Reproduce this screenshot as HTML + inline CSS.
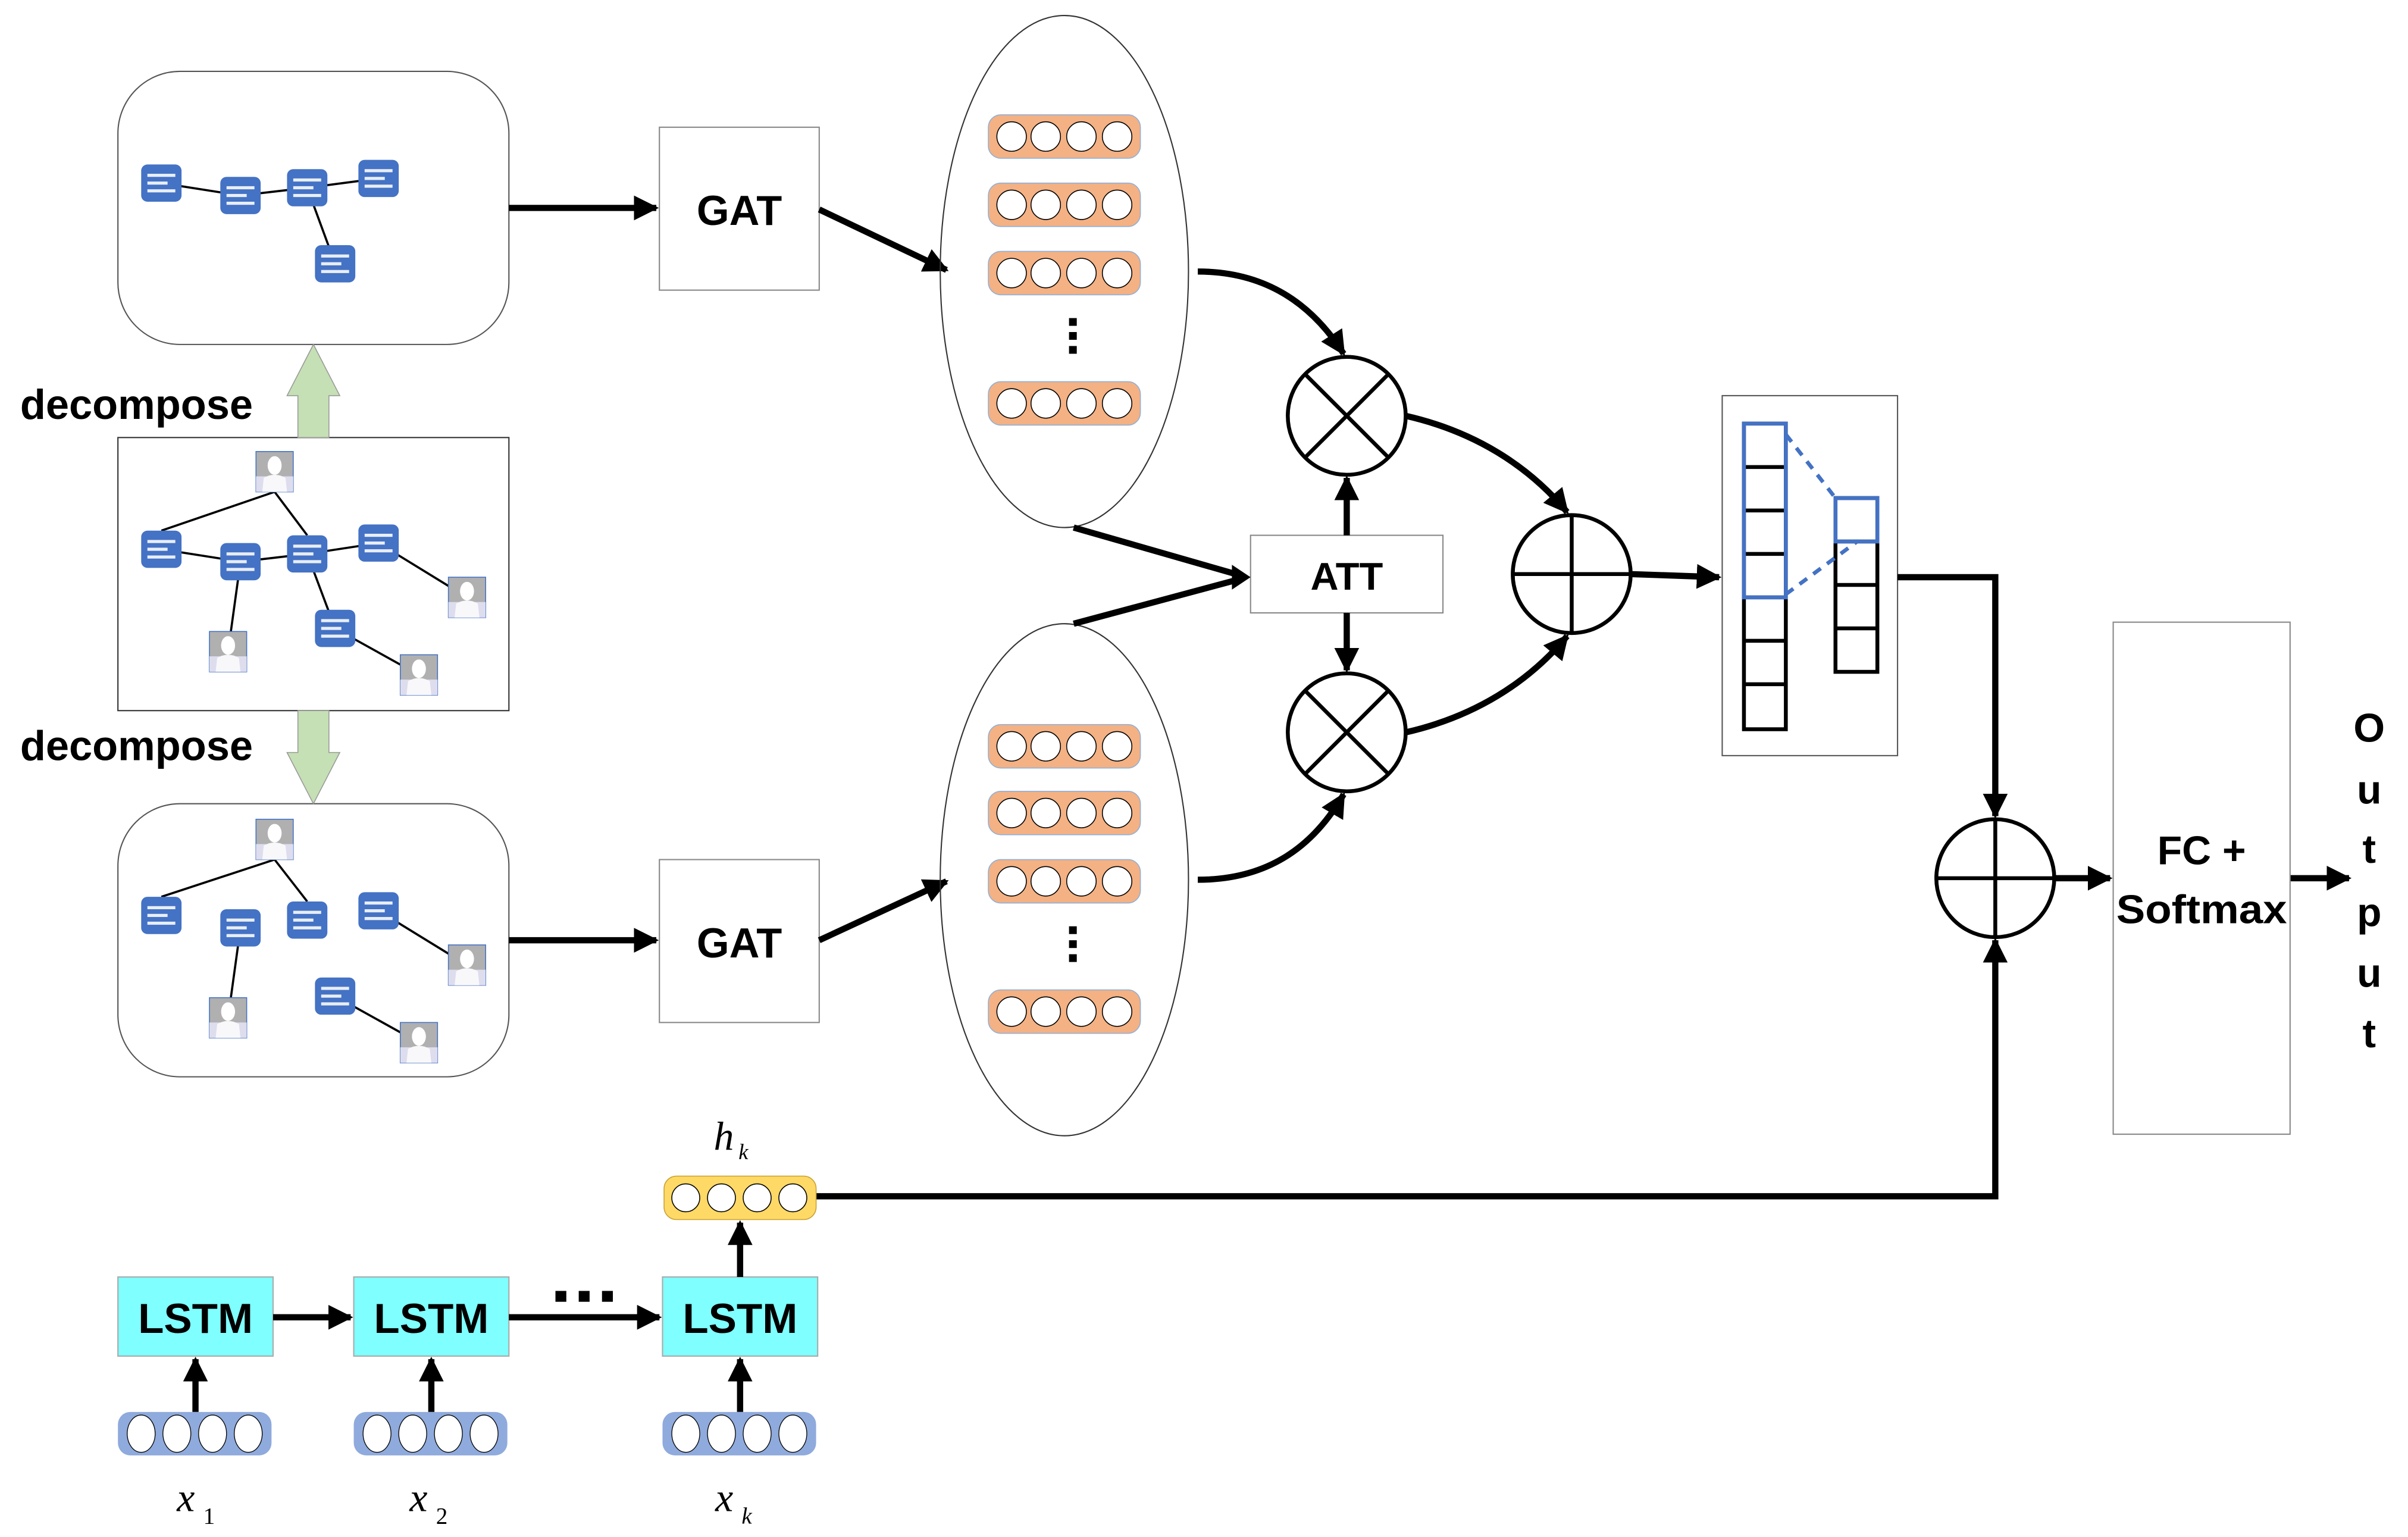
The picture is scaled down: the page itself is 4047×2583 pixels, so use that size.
<!DOCTYPE html>
<html><head><meta charset="utf-8"><style>
html,body{margin:0;padding:0;background:#fff;}
svg{display:block;}
.b{font-family:"Liberation Sans",sans-serif;font-weight:bold;}
.i{font-family:"Liberation Serif",serif;font-style:italic;}
</style></head><body>
<svg width="4047" height="2583" viewBox="0 0 1552 990.6" preserveAspectRatio="none" xmlns="http://www.w3.org/2000/svg">
<defs>
<marker id="ah" viewBox="0 0 10 10" refX="9" refY="5" markerWidth="4" markerHeight="4" orient="auto" markerUnits="strokeWidth">
<path d="M0,0 L10,5 L0,10 Z" fill="#000"/></marker>
<g id="doc"><rect x="-13" y="-12" width="26" height="24" rx="4" fill="#4472c4"/>
<rect x="-9" y="-6" width="18" height="2" fill="#e8eef8"/><rect x="-9" y="-1" width="13" height="2" fill="#e8eef8"/><rect x="-9" y="4" width="18" height="2" fill="#e8eef8"/></g>
<g id="per"><rect x="-12" y="-13" width="24" height="26" fill="#b0b0b0" stroke="#4472c4" stroke-width="0.6"/>
<rect x="-12" y="3" width="24" height="10" fill="#dde"/>
<ellipse cx="0" cy="-4" rx="4.5" ry="6" fill="#fff"/><path d="M-8,13 L-7,4 Q0,0 7,4 L8,13 Z" fill="#f8f8fb"/></g>
<g id="ov"><rect x="0" y="-14" width="98" height="28" rx="8" fill="#f4b183" stroke="#8fb0d8" stroke-width="0.6"/>
<circle cx="15" cy="0" r="9.5" fill="#fff" stroke="#000" stroke-width="0.6"/><circle cx="37" cy="0" r="9.5" fill="#fff" stroke="#000" stroke-width="0.6"/><circle cx="60" cy="0" r="9.5" fill="#fff" stroke="#000" stroke-width="0.6"/><circle cx="83" cy="0" r="9.5" fill="#fff" stroke="#000" stroke-width="0.6"/></g>
<g id="bv"><rect x="0" y="-14" width="99" height="28" rx="8" fill="#8faadc"/>
<ellipse cx="15" cy="0" rx="9" ry="12" fill="#fff" stroke="#000" stroke-width="0.5"/><ellipse cx="38" cy="0" rx="9" ry="12" fill="#fff" stroke="#000" stroke-width="0.5"/><ellipse cx="61" cy="0" rx="9" ry="12" fill="#fff" stroke="#000" stroke-width="0.5"/><ellipse cx="84" cy="0" rx="9" ry="12" fill="#fff" stroke="#000" stroke-width="0.5"/></g>
</defs>

<rect x="76" y="46" width="252" height="176" rx="40" fill="#fff" stroke="#555" stroke-width="0.8"/>
<rect x="76" y="282" width="252" height="176" fill="#fff" stroke="#333" stroke-width="0.8"/>
<rect x="76" y="518" width="252" height="176" rx="40" fill="#fff" stroke="#555" stroke-width="0.8"/>

<path d="M192,282 L192,255 L185,255 L202,222 L219,255 L212,255 L212,282 Z" fill="#c5e0b4" stroke="#999" stroke-width="0.6"/>
<path d="M192,458 L192,485 L185,485 L202,518 L219,485 L212,485 L212,458 Z" fill="#c5e0b4" stroke="#999" stroke-width="0.6"/>
<text x="13" y="270" class="b" font-size="27">decompose</text>
<text x="13" y="490" class="b" font-size="27">decompose</text>

<g stroke="#000" stroke-width="1.4">
<line x1="104" y1="118" x2="155" y2="126"/><line x1="155" y1="126" x2="198" y2="121"/><line x1="198" y1="121" x2="244" y2="115"/><line x1="198" y1="121" x2="216" y2="170"/>
</g>
<use href="#doc" x="104" y="118"/><use href="#doc" x="155" y="126"/><use href="#doc" x="198" y="121"/><use href="#doc" x="244" y="115"/><use href="#doc" x="216" y="170"/>

<g stroke="#000" stroke-width="1.4">
<line x1="104" y1="342" x2="177" y2="317"/><line x1="177" y1="317" x2="198" y2="345"/><line x1="104" y1="354" x2="155" y2="362"/><line x1="155" y1="362" x2="198" y2="357"/><line x1="198" y1="357" x2="244" y2="350"/><line x1="244" y1="350" x2="301" y2="385"/><line x1="155" y1="362" x2="147" y2="420"/><line x1="198" y1="357" x2="216" y2="405"/><line x1="216" y1="405" x2="270" y2="435"/>
</g>
<use href="#doc" x="104" y="354"/><use href="#doc" x="155" y="362"/><use href="#doc" x="198" y="357"/><use href="#doc" x="244" y="350"/><use href="#doc" x="216" y="405"/>
<use href="#per" x="177" y="304"/><use href="#per" x="147" y="420"/><use href="#per" x="301" y="385"/><use href="#per" x="270" y="435"/>

<g stroke="#000" stroke-width="1.4">
<line x1="104" y1="578" x2="177" y2="554"/><line x1="177" y1="554" x2="198" y2="581"/><line x1="155" y1="598" x2="147" y2="656"/><line x1="244" y1="587" x2="301" y2="622"/><line x1="216" y1="642" x2="270" y2="672"/>
</g>
<use href="#doc" x="104" y="590"/><use href="#doc" x="155" y="598"/><use href="#doc" x="198" y="593"/><use href="#doc" x="244" y="587"/><use href="#doc" x="216" y="642"/>
<use href="#per" x="177" y="541"/><use href="#per" x="147" y="656"/><use href="#per" x="301" y="622"/><use href="#per" x="270" y="672"/>

<rect x="425" y="82" width="103" height="105" fill="#fff" stroke="#888" stroke-width="0.8"/>
<rect x="425" y="554" width="103" height="105" fill="#fff" stroke="#888" stroke-width="0.8"/>
<text x="476.5" y="145" text-anchor="middle" class="b" font-size="27">GAT</text>
<text x="476.5" y="617" text-anchor="middle" class="b" font-size="27">GAT</text>

<g stroke="#000" stroke-width="4" fill="none" marker-end="url(#ah)">
<line x1="328" y1="134" x2="423" y2="134"/>
<line x1="328" y1="606" x2="423" y2="606"/>
<line x1="528" y1="135" x2="610" y2="174"/>
<line x1="528" y1="606" x2="610" y2="568"/>
</g>

<ellipse cx="686" cy="175" rx="80" ry="165" fill="none" stroke="#333" stroke-width="0.8"/>
<ellipse cx="686" cy="567" rx="80" ry="165" fill="none" stroke="#333" stroke-width="0.8"/>
<use href="#ov" x="637" y="88"/><use href="#ov" x="637" y="132"/><use href="#ov" x="637" y="176"/><use href="#ov" x="637" y="260"/>
<use href="#ov" x="637" y="481"/><use href="#ov" x="637" y="524"/><use href="#ov" x="637" y="568"/><use href="#ov" x="637" y="652"/>
<g fill="#000"><rect x="689" y="205" width="5" height="5"/><rect x="689" y="214" width="5" height="5"/><rect x="689" y="223" width="5" height="5"/>
<rect x="689" y="597" width="5" height="5"/><rect x="689" y="606" width="5" height="5"/><rect x="689" y="615" width="5" height="5"/></g>

<rect x="806" y="345" width="124" height="50" fill="#fff" stroke="#888" stroke-width="0.8"/>
<text x="868" y="380" text-anchor="middle" class="b" font-size="25">ATT</text>
<g stroke="#000" stroke-width="4" fill="none">
<line x1="692" y1="340" x2="800" y2="371"/>
<line x1="692" y1="402" x2="800" y2="373"/>
</g>
<path d="M794,364 L806,372 L794,380 Z" fill="#000"/>
<g stroke="#000" stroke-width="4" fill="none" marker-end="url(#ah)">
<line x1="868" y1="345" x2="868" y2="308"/>
<line x1="868" y1="395" x2="868" y2="432"/>
<path d="M772,175 C815,175 845,195 866,228"/>
<path d="M772,567 C815,567 845,548 866,512"/>
<path d="M906,268 C950,278 985,300 1010,330"/>
<path d="M906,472 C950,462 985,440 1010,410"/>
<line x1="1051" y1="370" x2="1108" y2="372"/>
</g>

<g stroke="#000" stroke-width="2.5" fill="#fff">
<circle cx="868" cy="268" r="38"/><circle cx="868" cy="472" r="38"/>
<circle cx="1013" cy="370" r="38"/><circle cx="1286" cy="566" r="38"/>
</g>
<g stroke="#000" stroke-width="2.5">
<line x1="841" y1="241" x2="895" y2="295"/><line x1="895" y1="241" x2="841" y2="295"/>
<line x1="841" y1="445" x2="895" y2="499"/><line x1="895" y1="445" x2="841" y2="499"/>
<line x1="975" y1="370" x2="1051" y2="370"/><line x1="1013" y1="332" x2="1013" y2="408"/>
<line x1="1248" y1="566" x2="1324" y2="566"/><line x1="1286" y1="528" x2="1286" y2="604"/>
</g>

<rect x="1110" y="255" width="113" height="232" fill="#fff" stroke="#555" stroke-width="0.8"/>
<g stroke="#000" stroke-width="2.5" fill="none">
<rect x="1124" y="273" width="27" height="197"/>
<line x1="1124" y1="301" x2="1151" y2="301"/><line x1="1124" y1="329" x2="1151" y2="329"/><line x1="1124" y1="357" x2="1151" y2="357"/><line x1="1124" y1="385" x2="1151" y2="385"/><line x1="1124" y1="413" x2="1151" y2="413"/><line x1="1124" y1="441" x2="1151" y2="441"/>
<rect x="1183" y="321" width="27" height="112"/>
<line x1="1183" y1="349" x2="1210" y2="349"/><line x1="1183" y1="377" x2="1210" y2="377"/><line x1="1183" y1="405" x2="1210" y2="405"/>
</g>
<g stroke="#4472c4" stroke-width="2.5" fill="none">
<rect x="1124" y="273" width="27" height="112"/>
<rect x="1183" y="321" width="27" height="28"/>
<line x1="1151" y1="280" x2="1183" y2="321" stroke-dasharray="6,5"/>
<line x1="1151" y1="383" x2="1197" y2="349" stroke-dasharray="6,5"/>
</g>

<g stroke="#000" stroke-width="4" fill="none" marker-end="url(#ah)">
<path d="M1223,372 L1286,372 L1286,526"/>
<path d="M526,771 L1286,771 L1286,606"/>
<line x1="1324" y1="566" x2="1360" y2="566"/>
<line x1="1476" y1="566" x2="1514" y2="566"/>
</g>
<rect x="1362" y="401" width="114" height="330" fill="#fff" stroke="#888" stroke-width="0.8"/>
<text x="1419" y="557" text-anchor="middle" class="b" font-size="26">FC +</text>
<text x="1419" y="595" text-anchor="middle" class="b" font-size="26" textLength="110" lengthAdjust="spacingAndGlyphs">Softmax</text>
<g class="b" font-size="26" text-anchor="middle">
<text x="1527" y="478">O</text><text x="1527" y="518">u</text><text x="1527" y="556">t</text><text x="1527" y="597">p</text><text x="1527" y="636">u</text><text x="1527" y="675">t</text>
</g>

<rect x="428" y="758" width="98" height="28" rx="8" fill="#ffd966" stroke="#c9a030" stroke-width="0.6"/>
<g fill="#fff" stroke="#000" stroke-width="0.6"><circle cx="442" cy="772" r="9"/><circle cx="465" cy="772" r="9"/><circle cx="488" cy="772" r="9"/><circle cx="511" cy="772" r="9"/></g>
<text x="460" y="741" class="i" font-size="26">h</text><text x="476" y="747" class="i" font-size="14">k</text>

<g fill="#7fffff" stroke="#aaa" stroke-width="0.8">
<rect x="76" y="823" width="100" height="51"/><rect x="228" y="823" width="100" height="51"/><rect x="427" y="823" width="100" height="51"/>
</g>
<g class="b" font-size="27" text-anchor="middle">
<text x="126" y="859" textLength="74" lengthAdjust="spacingAndGlyphs">LSTM</text><text x="278" y="859" textLength="74" lengthAdjust="spacingAndGlyphs">LSTM</text><text x="477" y="859" textLength="74" lengthAdjust="spacingAndGlyphs">LSTM</text>
</g>
<g stroke="#000" stroke-width="4" fill="none" marker-end="url(#ah)">
<line x1="176" y1="849" x2="226" y2="849"/>
<line x1="328" y1="849" x2="425" y2="849"/>
<line x1="477" y1="823" x2="477" y2="788"/>
<line x1="126" y1="910" x2="126" y2="876"/>
<line x1="278" y1="910" x2="278" y2="876"/>
<line x1="477" y1="910" x2="477" y2="876"/>
</g>
<g fill="#000"><rect x="358" y="832" width="7" height="7"/><rect x="373" y="832" width="7" height="7"/><rect x="388" y="832" width="7" height="7"/></g>
<use href="#bv" x="76" y="924"/><use href="#bv" x="228" y="924"/><use href="#bv" x="427" y="924"/>
<g class="i">
<text x="114" y="974" font-size="26">x</text><text x="131" y="982" font-size="15" font-style="normal">1</text>
<text x="264" y="974" font-size="26">x</text><text x="281" y="982" font-size="15" font-style="normal">2</text>
<text x="461" y="974" font-size="26">x</text><text x="478" y="982" font-size="15">k</text>
</g>
</svg>
</body></html>
